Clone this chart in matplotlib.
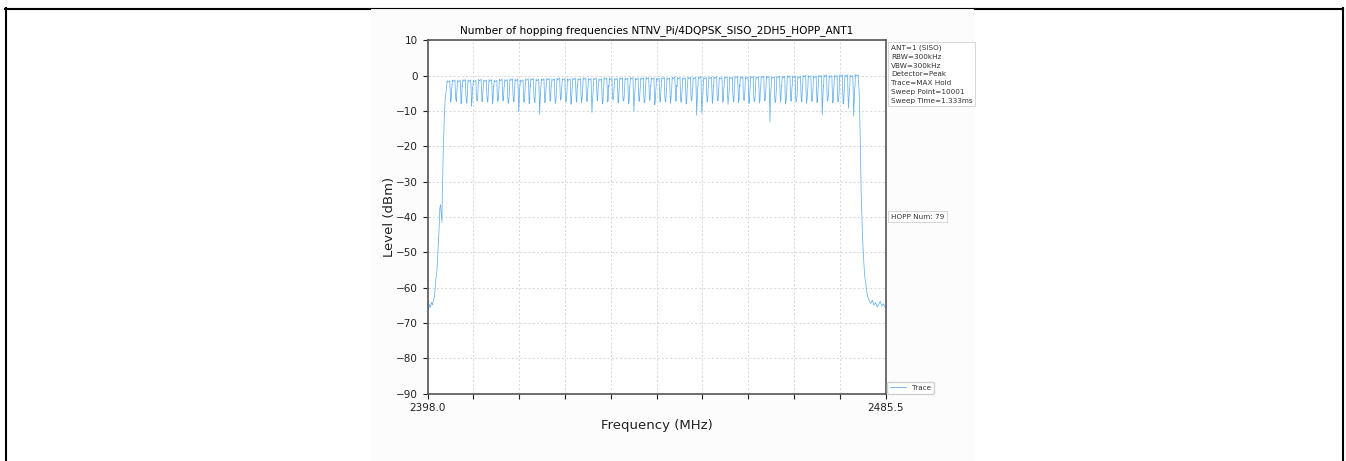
import numpy as np
import matplotlib
matplotlib.use('Agg')
import matplotlib.pyplot as plt
from matplotlib.lines import Line2D
from matplotlib.patches import Rectangle

# Axis ranges / labels
f_start, f_stop = 2398.0, 2485.5
xtick_labels = ['2398.0', '', '', '', '', '', '', '', '', '', '2485.5']
yticks = [10, 0, -10, -20, -30, -40, -50, -60, -70, -80, -90]

# Hopping channels (1 MHz raster)
channel_mhz = np.arange(2402, 2481)

# Peak level of each channel (dBm)
peak_dbm = [
    -1.4, -1.2, -1.3, -1.1, -1.2, -1.3, -1.0, -1.2, -1.1, -1.3,
    -1.0, -1.1, -0.9, -1.0, -1.2, -0.9, -0.8, -1.0, -0.9, -0.8,
    -0.9, -0.7, -0.8, -0.9, -0.7, -0.8, -0.6, -0.8, -0.7, -0.9,
    -0.6, -0.7, -0.8, -0.6, -0.7, -0.5, -0.7, -0.6, -0.5, -0.6,
    -0.7, -0.5, -0.6, -0.4, -0.5, -0.6, -0.4, -0.5, -0.3, -0.5,
    -0.4, -0.3, -0.5, -0.3, -0.4, -0.2, -0.3, -0.4, -0.2, -0.3,
    -0.1, -0.2, -0.3, -0.1, -0.2, 0.0, -0.1, -0.2, 0.1, 0.0,
    -0.1, 0.1, 0.2, 0.0, 0.1, 0.3, 0.2, 0.1, 0.3]

# Shoulder level on the falling edge after each channel (dBm)
shoulder_dbm = [
    -4.5, -5.2, -3.8, -5.6, -4.1, -6.0, -4.8, -5.3, -3.9, -5.7,
    -4.4, -6.1, -5.0, -4.2, -5.5, -3.7, -5.9, -4.6, -5.1, -4.0,
    -5.8, -4.3, -6.2, -4.9, -3.6, -5.4, -4.7, -6.0, -4.1, -5.2,
    -3.8, -5.6, -4.5, -6.1, -4.0, -5.3, -4.8, -5.9, -3.9, -5.0,
    -4.4, -6.0, -5.1, -3.7, -5.7, -4.6, -5.5, -4.2, -6.2, -4.8,
    -3.9, -5.4, -4.3, -5.8, -4.9, -3.6, -5.6, -4.5, -6.0, -4.1,
    -5.2, -4.7, -5.9, -3.8, -5.3, -4.4, -6.1, -4.0, -5.0, -5.7,
    -4.6, -3.9, -5.5, -4.2, -6.0, -4.8, -5.1, -4.3]

# Minimum between neighbouring channels (dBm)
dip_dbm = [
    -7.5, -6.8, -7.9, -7.2, -8.6, -7.0, -7.4, -6.9, -8.0, -7.3,
    -7.1, -7.8, -6.7, -10.2, -7.5, -7.9, -7.0, -11.0, -7.6, -7.2,
    -7.8, -6.9, -7.4, -8.1, -7.0, -7.6, -7.3, -10.4, -7.1, -7.9,
    -7.4, -6.8, -7.7, -7.2, -8.0, -10.0, -7.3, -7.6, -7.0, -8.2,
    -7.4, -6.9, -7.8, -7.2, -7.5, -8.0, -7.1, -11.2, -10.6, -7.4,
    -7.8, -7.0, -7.5, -8.1, -7.2, -7.6, -6.9, -7.9, -7.3, -7.7,
    -7.1, -13.0, -7.6, -7.4, -8.0, -7.2, -7.5, -6.9, -7.8, -7.3,
    -7.6, -11.1, -7.2, -7.7, -7.4, -8.0, -9.2, -11.5]

# Level just before the next channel rises again (dBm)
rise_dbm = [
    -6.9, -7.3, -6.5, -7.8, -6.7, -7.1, -6.4, -7.5, -6.8, -7.0,
    -6.6, -7.2, -7.4, -6.5, -7.0, -6.8, -7.6, -6.9, -7.1, -6.4,
    -7.3, -6.7, -7.0, -6.6, -7.5, -6.8, -7.2, -6.9, -6.5, -7.4,
    -7.0, -6.6, -7.1, -6.8, -7.3, -6.9, -6.6, -7.2, -6.7, -7.0,
    -6.8, -7.4, -6.5, -7.1, -6.9, -7.2, -6.6, -7.0, -6.8, -7.3,
    -6.7, -7.1, -6.9, -6.6, -7.4, -6.8, -7.0, -6.5, -7.2, -6.9,
    -6.7, -7.0, -7.3, -6.6, -6.9, -7.1, -6.8, -7.4, -6.5, -7.0,
    -6.9, -7.2, -6.7, -7.0, -6.8, -7.1, -6.6, -7.5]

# Band edges (skirts)
left_skirt_mhz = [2398.0, 2398.15, 2398.35, 2398.55, 2398.75, 2398.95, 2399.15, 2399.3,
                  2399.45, 2399.6, 2399.75, 2399.9, 2400.05, 2400.2, 2400.35, 2400.5,
                  2400.62, 2400.75, 2400.85, 2401.0, 2401.2, 2401.4, 2401.6]
left_skirt_dbm = [-65.5, -66.2, -64.8, -65.6, -64.2, -64.9, -63.5, -62.8,
                  -60.5, -57.5, -56.0, -53.0, -48.0, -44.0, -37.5, -36.5,
                  -39.0, -41.5, -32.0, -22.0, -12.0, -6.0, -4.0]
right_skirt_mhz = [2480.45, 2480.55, 2480.7, 2480.85, 2481.0, 2481.1, 2481.25, 2481.4,
                   2481.55, 2481.7, 2481.9, 2482.1, 2482.4, 2482.7, 2483.0, 2483.3,
                   2483.6, 2483.9, 2484.2, 2484.5, 2484.8, 2485.1, 2485.5]
right_skirt_dbm = [-4.0, -9.0, -20.0, -33.0, -40.0, -45.0, -50.0, -54.0,
                   -57.0, -58.5, -61.0, -62.5, -63.8, -64.5, -63.6, -65.0,
                   -64.2, -65.5, -64.8, -63.9, -65.2, -64.6, -65.8]

info_text = ('ANT=1 (SISO)\nRBW=300kHz\nVBW=300kHz\nDetector=Peak\n'
             'Trace=MAX Hold\nSweep Point=10001\nSweep Time=1.333ms')
hopp_text = 'HOPP Num: 79'
title = 'Number of hopping frequencies NTNV_Pi/4DQPSK_SISO_2DH5_HOPP_ANT1'

# build the trace polyline
fx = list(left_skirt_mhz)
fy = list(left_skirt_dbm)
for k, f in enumerate(channel_mhz):
    fx += [f - 0.25, f - 0.1, f + 0.1, f + 0.25]
    fy += [peak_dbm[k], peak_dbm[k] - 0.4, peak_dbm[k] - 0.2, peak_dbm[k]]
    if k < len(dip_dbm):
        fx += [f + 0.33, f + 0.42, f + 0.52, f + 0.62, f + 0.68]
        fy += [shoulder_dbm[k], dip_dbm[k], rise_dbm[k], shoulder_dbm[k] + 1.0, -3.0]
fx += right_skirt_mhz
fy += right_skirt_dbm

W, H = 1346, 461
fig = plt.figure(figsize=(W / 100, H / 100), dpi=100)

# pasted chart background + page frame
fig.add_artist(Rectangle((370 / W, 0), 605 / W, 1 - 9 / H, transform=fig.transFigure,
                         facecolor='#fcfcfc', edgecolor='none', zorder=-5))
fig.add_artist(Line2D([5.7 / W, 5.7 / W], [0, 1 - 8.5 / H], color='black', lw=1.5))
fig.add_artist(Line2D([1342.5 / W, 1342.5 / W], [0, 1 - 8.5 / H], color='black', lw=1.5))
fig.add_artist(Line2D([5 / W, 370 / W], [1 - 9 / H, 1 - 9 / H], color='black', lw=1.5))
fig.add_artist(Line2D([370 / W, 975 / W], [1 - 8 / H, 1 - 8 / H], color='black', lw=0.8))
fig.add_artist(Line2D([975 / W, 1343 / W], [1 - 9 / H, 1 - 9 / H], color='black', lw=1.5))

ax = fig.add_axes([427.5 / W, 1 - 393.5 / H, 458 / W, 353.1 / H])
ax.plot(fx, fy, color='#4aa3ec', lw=0.55, alpha=0.85, label='Trace')

ax.set_xlim(f_start, f_stop)
ax.set_ylim(-90, 10)
ax.set_xticks(np.linspace(f_start, f_stop, len(xtick_labels)))
ax.set_xticklabels(xtick_labels)
ax.set_yticks(yticks)
ax.tick_params(labelsize=7.5, length=3.5, width=0.8, colors='#222222')
ax.grid(True, ls=(0, (3, 3)), lw=0.5, color='#c8c8c8')
for s in ax.spines.values():
    s.set_color('#555555')
    s.set_linewidth(1.2)

ax.set_title(title, fontsize=7.6, pad=5)
ax.set_xlabel('Frequency (MHz)', fontsize=9.5, color='#222222')
ax.set_ylabel('Level (dBm)', fontsize=9.5, color='#222222', labelpad=0)

box = dict(boxstyle='square,pad=0.35', fc='white', ec='#d0d0d0', lw=0.6)
ax.text(1.012, 0.988, info_text, transform=ax.transAxes, va='top', ha='left',
        fontsize=5.2, color='#333333', linespacing=1.55, bbox=box)
ax.text(1.012, 0.5, hopp_text, transform=ax.transAxes, va='center', ha='left',
        fontsize=5.2, color='#333333', bbox=box)
leg = ax.legend(loc='lower left', bbox_to_anchor=(1.004, 0.0), borderaxespad=0,
                fontsize=5.2, handlelength=2.2, framealpha=1, edgecolor='#d0d0d0')
for t in leg.get_texts():
    t.set_color('#333333')
leg.get_lines()[0].set_alpha(1)

fig.savefig('out.png', dpi=100)
